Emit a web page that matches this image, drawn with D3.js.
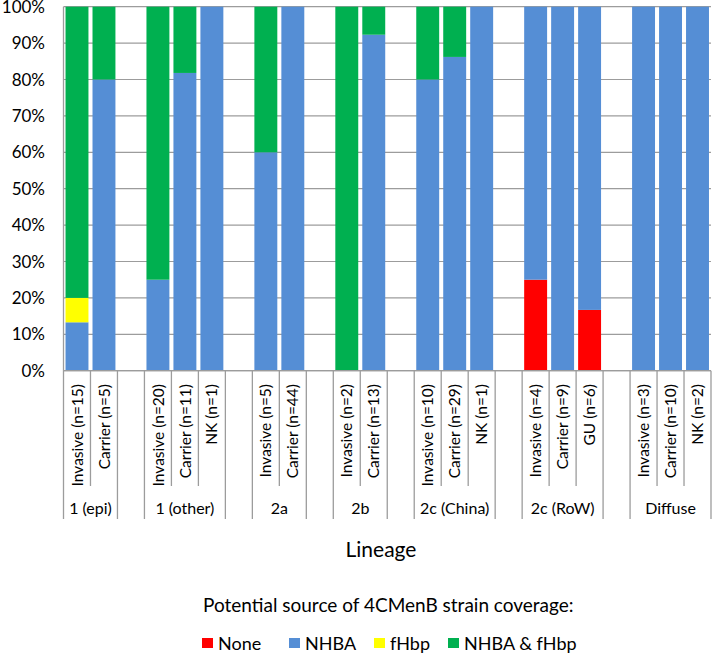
<!DOCTYPE html>
<html><head><meta charset="utf-8">
<script src="https://cdn.jsdelivr.net/npm/d3@7"></script>
<style>body{margin:0;background:#fff}svg{display:block}</style>
</head><body>
<svg id="chart" width="712" height="654"></svg>
<script>
const categories = ["Invasive (n=15)","Carrier (n=5)","","Invasive (n=20)","Carrier (n=11)","NK (n=1)","","Invasive (n=5)","Carrier (n=44)","","Invasive (n=2)","Carrier (n=13)","","Invasive (n=10)","Carrier (n=29)","NK (n=1)","","Invasive (n=4)","Carrier (n=9)","GU (n=6)","","Invasive (n=3)","Carrier (n=10)","NK (n=2)"];
const lineages = ["1 (epi)","1 (epi)","","1 (other)","1 (other)","1 (other)","","2a","2a","","2b","2b","","2c (China)","2c (China)","2c (China)","","2c (RoW)","2c (RoW)","2c (RoW)","","Diffuse","Diffuse","Diffuse"];
const seriesNames = ["None","NHBA","fHbp","NHBA & fHbp"];
const seriesColors = ["#ff0000","#558ed5","#ffff00","#00b050"];
const noneVals = [0,0,0, 0,0,0, 0, 0,0, 0, 0,0, 0, 0,0,0, 0, 25,0,16.7, 0, 0,0,0];
const nhbaVals = [13.3,80,0, 25,81.8,100, 0, 60,100, 0, 0,92.3, 0, 80,86.2,100, 0, 75,100,83.3, 0, 100,100,100];
const fhbpVals = [6.7,0,0, 0,0,0, 0, 0,0, 0, 0,0, 0, 0,0,0, 0, 0,0,0, 0, 0,0,0];
const bothVals = [80,20,0, 75,18.2,0, 0, 40,0, 0, 100,7.7, 0, 20,13.8,0, 0, 0,0,0, 0, 0,0,0];
const yTicks = [0,10,20,30,40,50,60,70,80,90,100];
const xTitle = "Lineage";
const legendTitle = "Potential source of 4CMenB strain coverage:";

const FONT = "Lato, 'Open Sans', sans-serif";
const GRID = "#9c9c9c";
const svg = d3.select("#chart");
const pLeft = 63.5, pRight = 711, pTop = 6.7, pBottom = 370.7;

const rows = categories.map((c, i) => ({i, None: noneVals[i], NHBA: nhbaVals[i], fHbp: fhbpVals[i], "NHBA & fHbp": bothVals[i]}));
const x = d3.scaleBand().domain(d3.range(categories.length)).range([pLeft, pRight]).paddingInner(0.15).paddingOuter(0.075);
const y = d3.scaleLinear().domain([0, 100]).range([pBottom, pTop]);
const step = x.step();
const bx = i => pLeft + i * step; // category boundary

// gridlines
svg.append("g").selectAll("line").data(yTicks).join("line")
  .attr("x1", pLeft).attr("x2", pRight)
  .attr("y1", d => y(d)).attr("y2", d => y(d))
  .attr("stroke", GRID).attr("stroke-width", 1.2);

// y labels
svg.append("g").selectAll("text").data(yTicks).join("text")
  .attr("x", 45).attr("y", d => y(d)).attr("dy", "0.36em")
  .attr("text-anchor", "end").attr("font-family", FONT).attr("font-size", 17).attr("fill", "#000")
  .text(d => d + "%");

// bars
const stack = d3.stack().keys(seriesNames)(rows);
svg.append("g").selectAll("g").data(stack).join("g")
  .attr("fill", (d, k) => seriesColors[k])
  .selectAll("rect").data(d => d).join("rect")
  .attr("x", d => x(d.data.i)).attr("width", x.bandwidth())
  .attr("y", d => y(d[1])).attr("height", d => Math.max(0, y(d[0]) - y(d[1])));

// axes lines
svg.append("line").attr("x1", pLeft).attr("x2", pLeft).attr("y1", pTop).attr("y2", pBottom).attr("stroke", GRID).attr("stroke-width", 1.3);
svg.append("line").attr("x1", pLeft).attr("x2", pRight).attr("y1", pBottom).attr("y2", pBottom).attr("stroke", GRID).attr("stroke-width", 1.3);

// category boundaries
const bounds = d3.range(categories.length + 1);
const isGroupBound = b => b === 0 || b === categories.length || lineages[b - 1] !== lineages[b];
svg.append("g").selectAll("line").data(bounds).join("line")
  .attr("x1", b => bx(b)).attr("x2", b => bx(b))
  .attr("y1", pBottom).attr("y2", b => isGroupBound(b) ? 519 : 486)
  .attr("stroke", GRID).attr("stroke-width", 1.3);

// category labels
svg.append("g").selectAll("text").data(categories.map((c, i) => ({c, i})).filter(d => d.c)).join("text")
  .attr("transform", d => `translate(${bx(d.i) + step / 2},384) rotate(-90)`)
  .attr("dy", "0.36em").attr("text-anchor", "end")
  .attr("font-family", FONT).attr("font-size", 15.5).attr("fill", "#000")
  .text(d => d.c);

// lineage labels
const groups = [];
lineages.forEach((l, i) => {
  if (i === 0 || lineages[i - 1] !== l) groups.push({name: l, start: i, end: i + 1});
  else groups[groups.length - 1].end = i + 1;
});
svg.append("g").selectAll("text").data(groups.filter(g => g.name)).join("text")
  .attr("x", g => (bx(g.start) + bx(g.end)) / 2).attr("y", 508).attr("dy", "0.36em")
  .attr("text-anchor", "middle").attr("font-family", FONT).attr("font-size", 16).attr("fill", "#000")
  .text(g => g.name);

// x title
svg.append("text").attr("x", 381).attr("y", 549).attr("dy", "0.36em").attr("text-anchor", "middle")
  .attr("font-family", FONT).attr("font-size", 21).attr("fill", "#000").text(xTitle);

// legend
svg.append("text").attr("x", 203).attr("y", 612)
  .attr("font-family", FONT).attr("font-size", 19).attr("fill", "#000").text(legendTitle);
const legX = [202, 289, 374, 448];
const lg = svg.append("g").selectAll("g").data(seriesNames).join("g")
  .attr("transform", (d, k) => `translate(${legX[k]},638)`);
lg.append("rect").attr("width", 11).attr("height", 10).attr("fill", (d, k) => seriesColors[k]);
lg.append("text").attr("x", 16).attr("y", 12).attr("font-family", FONT).attr("font-size", 18).attr("fill", "#000").text(d => d);
</script>
</body></html>
